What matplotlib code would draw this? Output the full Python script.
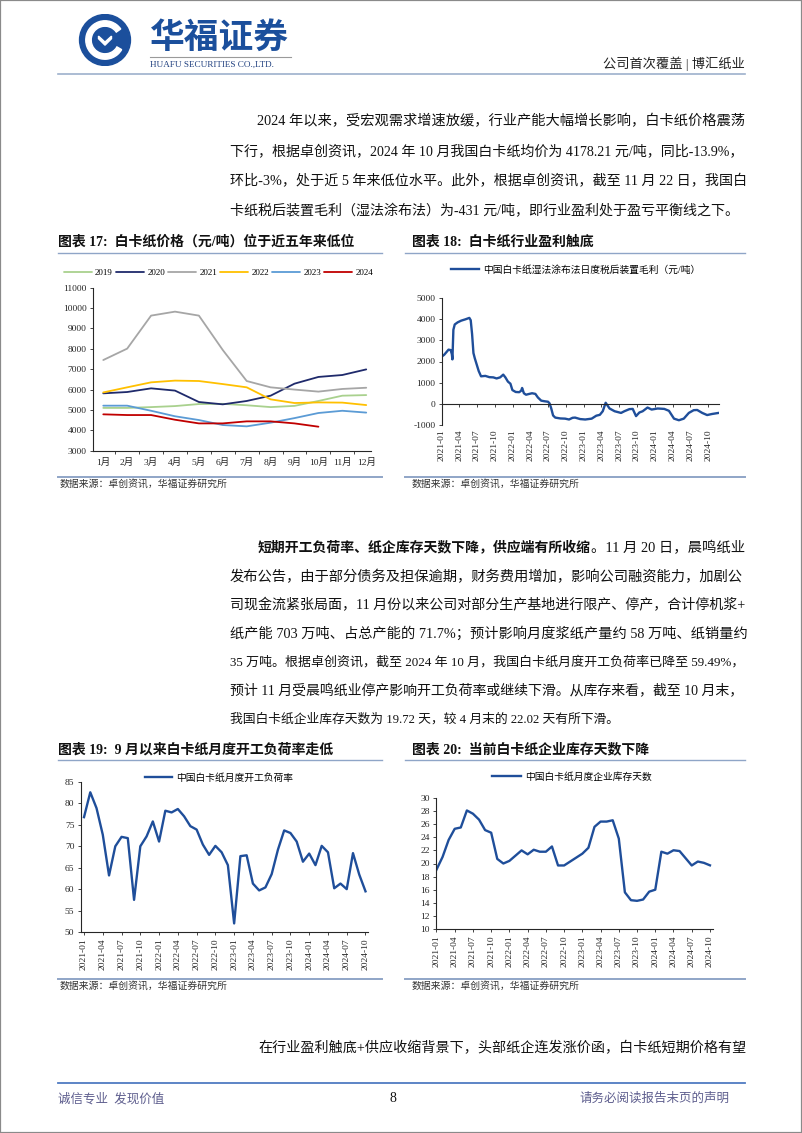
import matplotlib
matplotlib.use('Agg')
import matplotlib.pyplot as plt
from matplotlib.patches import Circle, Wedge, Rectangle, Polygon
from matplotlib.lines import Line2D
import pandas as pd

plt.rcParams['font.family'] = ['Liberation Serif', 'Noto Sans CJK SC', 'DejaVu Sans']
plt.rcParams['axes.unicode_minus'] = False

# ---------------- data ----------------
months17 = ['1月', '2月', '3月', '4月', '5月', '6月', '7月', '8月', '9月', '10月', '11月', '12月']
years17 = ['2019', '2020', '2021', '2022', '2023', '2024']
price_2019 = [5100, 5100, 5140, 5190, 5290, 5300, 5230, 5140, 5200, 5440, 5700, 5730]
price_2020 = [5815, 5880, 6060, 5950, 5390, 5275, 5440, 5700, 6290, 6620, 6715, 6990]
price_2021 = [7450, 8010, 9630, 9825, 9630, 7940, 6420, 6110, 6000, 5900, 6030, 6090]
price_2022 = [5860, 6110, 6355, 6440, 6420, 6270, 6110, 5520, 5340, 5370, 5360, 5240]
price_2023 = [5210, 5210, 4960, 4690, 4505, 4260, 4195, 4375, 4600, 4850, 4960, 4870]
price_2024 = [4785, 4750, 4750, 4520, 4340, 4340, 4440, 4440, 4340, 4178]
colors17 = ['#A9D18E', '#1F2A6B', '#A6A6A6', '#FFC000', '#5B9BD5', '#C00000']

profit_dates = ['2021-01-01', '2021-01-14', '2021-01-26', '2021-02-05', '2021-02-16', '2021-02-22', '2021-02-25',
                '2021-03-02', '2021-03-09', '2021-03-24', '2021-04-11', '2021-05-02', '2021-05-23', '2021-05-30',
                '2021-06-06', '2021-06-13', '2021-06-20', '2021-06-30', '2021-07-10', '2021-07-22', '2021-08-13',
                '2021-09-03', '2021-09-23', '2021-10-10', '2021-10-28', '2021-11-13', '2021-11-24', '2021-12-07',
                '2021-12-20', '2021-12-30', '2022-01-16', '2022-02-03', '2022-02-13', '2022-02-18', '2022-02-27',
                '2022-03-10', '2022-03-27', '2022-04-10', '2022-04-27', '2022-05-10', '2022-05-27', '2022-06-14',
                '2022-07-01', '2022-07-09', '2022-07-17', '2022-07-27', '2022-08-07', '2022-09-02', '2022-09-27',
                '2022-10-17', '2022-11-04', '2022-11-17', '2022-12-13', '2023-01-08', '2023-02-10', '2023-03-06',
                '2023-03-24', '2023-04-08', '2023-04-23', '2023-05-13', '2023-06-08', '2023-07-11', '2023-07-28',
                '2023-08-23', '2023-09-09', '2023-09-26', '2023-10-13', '2023-10-30', '2023-11-24', '2023-12-15',
                '2024-01-15', '2024-02-18', '2024-03-13', '2024-04-08', '2024-05-03', '2024-05-28', '2024-06-23',
                '2024-07-18', '2024-08-05', '2024-08-31', '2024-09-25', '2024-10-20', '2024-11-22']
profit_values = [2230, 2320, 2450, 2560, 2540, 2350, 2100, 3500, 3750, 3850, 3930, 3990, 4060, 3950,
                 3300, 2400, 2150, 1850, 1550, 1300, 1320, 1260, 1250, 1200, 1250, 1380, 1250, 1050,
                 950, 650, 560, 550, 620, 750, 500, 430, 470, 500, 470, 300, 150, 120,
                 100, 20, -200, -550, -650, -690, -700, -740, -660, -650, -720, -740, -700, -560,
                 -520, -350, 50, -220, -350, -430, -350, -250, -240, -580, -410, -350, -175, -270,
                 -220, -240, -330, -700, -775, -700, -430, -300, -290, -430, -530, -480, -431]

month_labels = [d.strftime('%Y-%m') for d in pd.date_range('2021-01-01', periods=46, freq='MS')]
load_rate = [76.8, 82.6, 78.9, 72.7, 63.2, 70.0, 72.2, 71.9, 57.5, 70.0, 72.3, 75.8,
             71.1, 78.3, 77.9, 78.7, 77.0, 74.7, 73.9, 70.4, 68.0, 70.1, 68.6, 65.6,
             52.0, 67.7, 67.9, 61.3, 59.7, 60.4, 63.5, 69.2, 73.7, 73.1, 71.1, 66.4,
             68.3, 65.6, 70.1, 68.6, 60.2, 61.3, 60.0, 68.4, 63.4, 59.49]
inv_days = [19.06, 21.0, 23.6, 25.3, 25.5, 28.1, 27.6, 26.7, 25.1, 24.7, 20.7, 20.0,
            20.4, 21.2, 22.0, 21.4, 22.1, 21.8, 21.8, 22.6, 19.7, 19.7, 20.3, 20.9,
            21.5, 22.4, 25.6, 26.4, 26.4, 26.6, 23.8, 15.6, 14.4, 14.3, 14.5, 15.7,
            16.0, 21.8, 21.5, 22.02, 21.9, 20.8, 19.7, 20.3, 20.1, 19.72]

# ---------------- figure helpers ----------------
W, H = 802, 1133
fig = plt.figure(figsize=(W / 100, H / 100), dpi=100)
fig.patch.set_facecolor('white')


def add_ax(l, t, r, b):
    return fig.add_axes([l / W, 1 - b / H, (r - l) / W, (b - t) / H])


def T(x, y, s, **kw):
    kw.setdefault('va', 'center')
    return fig.text(x / W, 1 - y / H, s, **kw)


def hline(x0, x1, y, color, lw):
    fig.add_artist(Line2D([x0 / W, x1 / W], [1 - y / H, 1 - y / H], color=color, lw=lw))


renderer = fig.canvas.get_renderer()


def para_line(x, y, s, right=None, size=10.0, **kw):
    t = T(x, y, s, fontsize=size, color='#111111', **kw)
    if right is not None:
        w = t.get_window_extent(renderer).width
        target = right - x
        f = max(0.9, min(1.1, target / w))
        t.set_fontsize(size * f)
    return t


AXC = '#262626'
TICK_FS = 6.8
LEG_FS = 7.0


def style(ax):
    for s in ['top', 'right']:
        ax.spines[s].set_visible(False)
    for s in ['left', 'bottom']:
        ax.spines[s].set_color(AXC)
        ax.spines[s].set_linewidth(0.8)
    ax.tick_params(labelsize=TICK_FS, length=2.5, width=0.6, direction='out', colors=AXC, pad=2)
    ax.patch.set_alpha(0)


# ---------------- page frame, header ----------------
fig.add_artist(Rectangle((0, 0), 1, 1, transform=fig.transFigure, fill=False, edgecolor='#8a8a8a', lw=1.6))

logo = fig.add_axes([72 / W, 1 - 66 / H, 66 / W, 52 / H])
logo.set_xlim(-1.27, 1.27)
logo.set_ylim(-1.0, 1.0)
logo.set_aspect('equal')
logo.axis('off')
blue = '#1B4F9C'
logo.add_patch(Circle((0, 0), 0.98, color=blue))
logo.add_patch(Wedge((0, 0), 0.74, 35, 330, width=0.21, color='white'))
logo.add_patch(Polygon([(0, 0.43), (0.43, 0), (0, -0.43), (-0.43, 0)], closed=True, color=blue))
logo.add_patch(Polygon([(-0.25, 0.05), (0, -0.2), (0.25, 0.05), (0.25, 0.15), (0, -0.08), (-0.25, 0.15)],
                       closed=True, color='white'))

T(150, 37, '华福证券', fontsize=25, fontweight='bold', color=blue, family=['Noto Sans CJK SC'])
hline(150, 291, 57, '#9a9a9a', 0.8)
T(150, 65, 'HUAFU SECURITIES CO.,LTD.', fontsize=6.6, color='#1F3F7F')
T(745, 64, '公司首次覆盖 | 博汇纸业', fontsize=9.5, color='#222222', ha='right')
hline(58, 745, 74, '#9DB0CC', 1.2)

# ---------------- paragraph 1 ----------------
para_line(257, 121, '2024 年以来，受宏观需求增速放缓，行业产能大幅增长影响，白卡纸价格震荡', right=745)
para_line(230, 151, '下行，根据卓创资讯，2024 年 10 月我国白卡纸均价为 4178.21 元/吨，同比-13.9%，', right=745)
para_line(230, 181, '环比-3%，处于近 5 年来低位水平。此外，根据卓创资讯，截至 11 月 22 日，我国白', right=745)
para_line(230, 211, '卡纸税后装置毛利（湿法涂布法）为-431 元/吨，即行业盈利处于盈亏平衡线之下。', right=740)

# ---------------- chart titles / rules ----------------
RULE = '#8FA5C7'
SRC = '数据来源：卓创资讯，华福证券研究所'
T(58, 242, '图表 17:  白卡纸价格（元/吨）位于近五年来低位', fontsize=10, fontweight='bold', color='#111111')
T(412, 242, '图表 18:  白卡纸行业盈利触底', fontsize=10, fontweight='bold', color='#111111')
hline(58, 382, 253, RULE, 1.0)
hline(405, 745, 253, RULE, 1.0)
hline(58, 382, 477, RULE, 1.4)
hline(405, 745, 477, RULE, 1.4)
T(60, 484, SRC, fontsize=7.1, color='#333333')
T(412, 484, SRC, fontsize=7.1, color='#333333')

T(58, 750, '图表 19:  9 月以来白卡纸月度开工负荷率走低', fontsize=10, fontweight='bold', color='#111111')
T(412, 750, '图表 20:  当前白卡纸企业库存天数下降', fontsize=10, fontweight='bold', color='#111111')
hline(58, 382, 760, RULE, 1.0)
hline(405, 745, 760, RULE, 1.0)
hline(58, 382, 979, RULE, 1.4)
hline(405, 745, 979, RULE, 1.4)
T(60, 986, SRC, fontsize=7.1, color='#333333')
T(412, 986, SRC, fontsize=7.1, color='#333333')

# ---------------- chart 17 ----------------
ax = add_ax(93, 287.7, 371, 450.7)
style(ax)
xs = list(range(1, 13))
series17 = [price_2019, price_2020, price_2021, price_2022, price_2023, price_2024]
for lab, col, vals in zip(years17, colors17, series17):
    ax.plot(xs[:len(vals)], vals, color=col, lw=1.3, label=lab, solid_capstyle='round')
ax.set_xlim(0.57, 12.2)
ax.set_ylim(3000, 11000)
ax.set_yticks(range(3000, 11001, 1000))
ax.set_xticks(xs)
ax.set_xticklabels(months17)
ax.set_xticks([i + 0.5 for i in range(1, 12)], minor=True)
ax.tick_params(axis='x', which='major', length=0, pad=5)
ax.tick_params(axis='x', which='minor', length=2.5, width=0.6, colors=AXC)
ax.legend(loc='center left', bbox_to_anchor=(64 / W, 1 - 273 / H), bbox_transform=fig.transFigure,
          ncol=6, frameon=False, fontsize=6.5, handlelength=3.1, handletextpad=0.35,
          columnspacing=0.35, borderpad=0, borderaxespad=0)

# ---------------- chart 18 ----------------
ax = add_ax(441.7, 298, 719, 425)
style(ax)
pdates = pd.to_datetime(profit_dates)
ax.plot(pdates, profit_values, color='#1F4E9A', lw=1.7, label='中国白卡纸湿法涂布法日度税后装置毛利（元/吨）')
ax.set_ylim(-1000, 5000)
ax.set_yticks(range(-1000, 5001, 1000))
ax.set_xlim(pd.Timestamp('2021-01-01'), pd.Timestamp('2024-11-25'))
ax.spines['bottom'].set_position(('data', 0))
qt = pd.date_range('2021-01-01', '2024-10-01', freq='QS')
ax.set_xticks(qt)
ax.set_xticklabels([d.strftime('%Y-%m') for d in qt], rotation=90)
ax.tick_params(axis='x', pad=16)
ax.legend(loc='center left', bbox_to_anchor=(451 / W, 1 - 270 / H), bbox_transform=fig.transFigure,
          frameon=False, fontsize=LEG_FS, handlelength=2.9, handletextpad=0.4, borderpad=0, borderaxespad=0)

# ---------------- paragraph 2 ----------------
b = T(258, 548, '短期开工负荷率、纸企库存天数下降，供应端有所收缩', fontsize=10, fontweight='bold', color='#111111')
bw = b.get_window_extent(renderer).width
para_line(258 + bw, 548, '。11 月 20 日，晨鸣纸业', right=745)
para_line(230, 577, '发布公告，由于部分债务及担保逾期，财务费用增加，影响公司融资能力，加剧公', right=745)
para_line(230, 605, '司现金流紧张局面，11 月份以来公司对部分生产基地进行限产、停产，合计停机浆+', right=745)
para_line(230, 634, '纸产能 703 万吨、占总产能的 71.7%；预计影响月度浆纸产量约 58 万吨、纸销量约', right=745)
para_line(230, 662, '35 万吨。根据卓创资讯，截至 2024 年 10 月，我国白卡纸月度开工负荷率已降至 59.49%，', right=745)
para_line(230, 691, '预计 11 月受晨鸣纸业停产影响开工负荷率或继续下滑。从库存来看，截至 10 月末，', right=745)
para_line(230, 719, '我国白卡纸企业库存天数为 19.72 天，较 4 月末的 22.02 天有所下滑。', right=620)

# ---------------- chart 19 ----------------
ax = add_ax(80.7, 782, 368, 932)
style(ax)
idx = list(range(len(load_rate)))
ax.plot(idx, load_rate, color='#1F4E9A', lw=1.7, label='中国白卡纸月度开工负荷率')
ax.set_ylim(50, 85)
ax.set_yticks(range(50, 86, 5))
ax.set_xlim(-0.53, 45.4)
ax.set_xticks(idx[::3])
ax.set_xticklabels(month_labels[::3], rotation=90)
ax.legend(loc='center left', bbox_to_anchor=(145 / W, 1 - 778 / H), bbox_transform=fig.transFigure,
          frameon=False, fontsize=LEG_FS, handlelength=2.8, handletextpad=0.4, borderpad=0, borderaxespad=0)

# ---------------- chart 20 ----------------
ax = add_ax(436, 798, 713, 929)
style(ax)
idx = list(range(len(inv_days)))
ax.plot(idx, inv_days, color='#1F4E9A', lw=1.7, label='中国白卡纸月度企业库存天数')
ax.set_ylim(10, 30)
ax.set_yticks(range(10, 31, 2))
ax.set_xlim(-0.08, 45.5)
ax.set_xticks(idx[::3])
ax.set_xticklabels(month_labels[::3], rotation=90)
ax.legend(loc='center left', bbox_to_anchor=(492 / W, 1 - 777 / H), bbox_transform=fig.transFigure,
          frameon=False, fontsize=LEG_FS, handlelength=3.0, handletextpad=0.4, borderpad=0, borderaxespad=0)

# ---------------- last paragraph & footer ----------------
para_line(258, 1048, '在行业盈利触底+供应收缩背景下，头部纸企连发涨价函，白卡纸短期价格有望', right=745)
hline(58, 745, 1083, '#4F7BC2', 1.3)
T(58, 1099, '诚信专业  发现价值', fontsize=9, color='#5E5E8E')
T(393, 1099, '8', fontsize=10, color='#111111', ha='center')
T(730, 1099, '请务必阅读报告末页的声明', fontsize=9, color='#5E5E8E', ha='right')

fig.savefig('out.png', dpi=100)
